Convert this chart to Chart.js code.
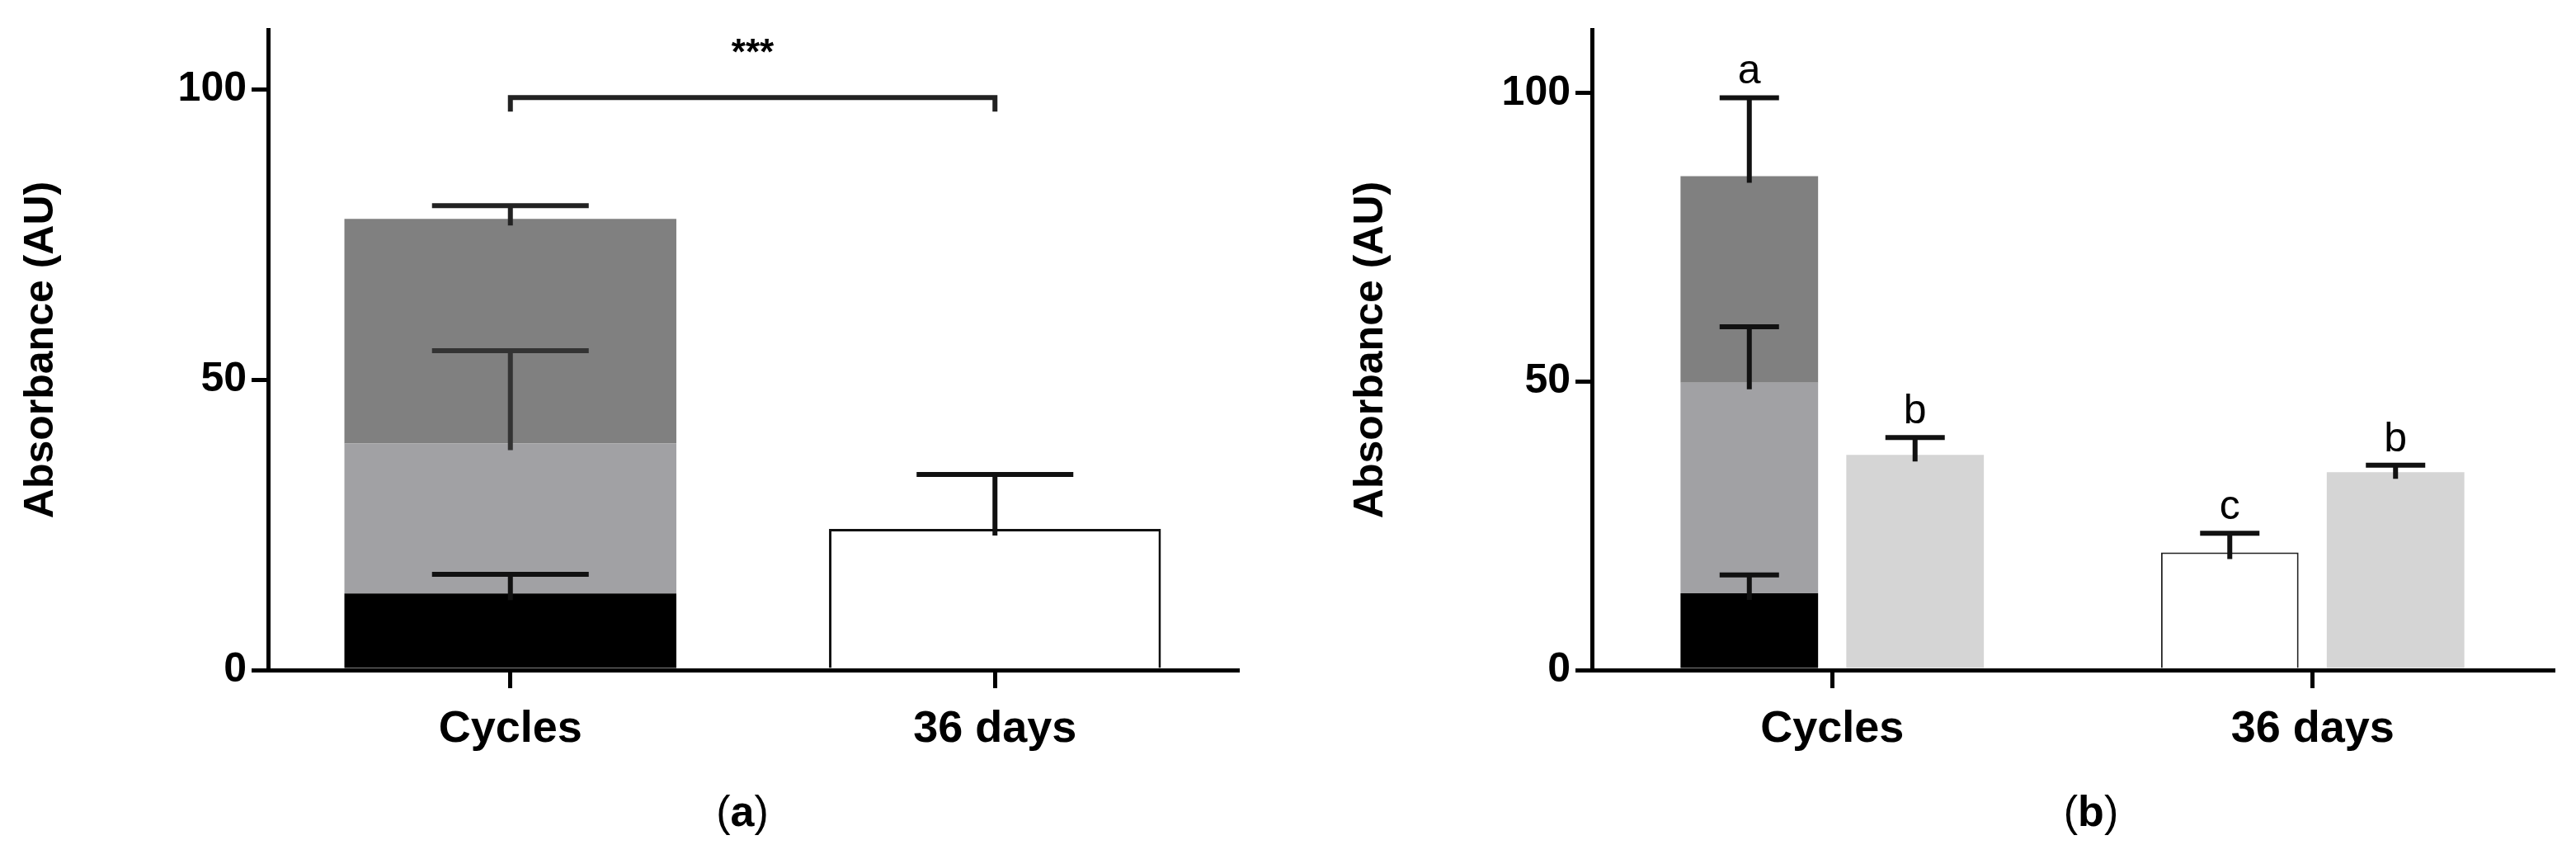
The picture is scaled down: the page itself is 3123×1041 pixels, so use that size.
<!DOCTYPE html>
<html>
<head>
<meta charset="utf-8">
<script src="https://cdn.jsdelivr.net/npm/chart.js@4/dist/chart.umd.min.js"></script>
<style>
  body { margin: 0; background: #fff; }
  #wrap { position: relative; width: 3123px; height: 1041px; }
  canvas { position: absolute; top: 0; }
  #ca { left: 0; }
  #cb { left: 1560px; }
</style>
</head>
<body>
<div id="wrap">
  <canvas id="ca" width="1560" height="1041"></canvas>
  <canvas id="cb" width="1563" height="1041"></canvas>
</div>
<script>
const categories = ['Cycles', '36 days']
const yTicks = [0, 50, 100]

// panel (a): single stacked bar per group
const aBlack = [13.2, null]
const aMid = [25.8, null]
const aDark = [38.7, null]
const aWhite = [null, 24.3]
const aBlackErr = [3.3, null]
const aMidErr = [16, null]
const aDarkErr = [2.3, null]
const aWhiteErr = [null, 9.4]

// panel (b): stacked bar + light grey bar per group
const bBlack = [13.3, null]
const bMid = [36.5, null]
const bDark = [35.8, null]
const bWhite = [null, 20.4]
const bLight = [37.3, 34.3]
const bBlackErr = [3.2, null]
const bMidErr = [9.7, null]
const bDarkErr = [13.6, null]
const bWhiteErr = [null, 3.3]
const bLightErr = [3.0, 1.2]
const bLetters = { stack: ['a', 'c'], light: ['b', 'b'] }

const narrow = '"Liberation Sans Narrow", "Arial Narrow", "Liberation Sans", sans-serif'
const sans = '"Liberation Sans", Arial, sans-serif'

const errorBars = {
    id: 'errorBars',
    afterDatasetsDraw(chart) {
        const ctx = chart.ctx
        const y = chart.scales.y
        chart.data.datasets.forEach((ds, i) => {
            if (!ds.errors) return
            const meta = chart.getDatasetMeta(i)
            meta.data.forEach((el, j) => {
                const e = ds.errors[j]
                if (e == null || ds.data[j] == null) return
                const topVal = y.getValueForPixel(el.y)
                const py = y.getPixelForValue(topVal + e)
                ctx.save()
                ctx.strokeStyle = ds.errColor || '#111'
                ctx.lineWidth = 6
                ctx.beginPath()
                ctx.moveTo(el.x, el.y + 8)
                ctx.lineTo(el.x, py)
                ctx.moveTo(el.x - ds.capHalf, py)
                ctx.lineTo(el.x + ds.capHalf, py)
                ctx.stroke()
                if (ds.letters && ds.letters[j]) {
                    ctx.fillStyle = '#000'
                    ctx.font = '50px ' + narrow
                    ctx.textAlign = 'center'
                    ctx.textBaseline = 'bottom'
                    ctx.fillText(ds.letters[j], el.x, py - 6)
                }
                ctx.restore()
            })
        })
    }
}

function panelLabel(letter, cx) {
    return {
        id: 'panelLabel',
        afterDraw(chart) {
            const ctx = chart.ctx
            ctx.save()
            ctx.fillStyle = '#000'
            ctx.textBaseline = 'middle'
            ctx.font = '52px ' + narrow
            const wp = ctx.measureText('(').width
            ctx.font = 'bold 52px ' + narrow
            const wl = ctx.measureText(letter).width
            let x = cx - (2 * wp + wl) / 2
            ctx.textAlign = 'left'
            ctx.font = '52px ' + narrow
            ctx.fillText('(', x, 987)
            ctx.font = 'bold 52px ' + narrow
            ctx.fillText(letter, x + wp, 987)
            ctx.font = '52px ' + narrow
            ctx.fillText(')', x + wp + wl, 987)
            ctx.restore()
        }
    }
}

const bracket = {
    id: 'bracket',
    afterDraw(chart) {
        const ctx = chart.ctx
        const x = chart.scales.x, y = chart.scales.y
        const x1 = x.getPixelForValue(0), x2 = x.getPixelForValue(1)
        const yt = y.getPixelForValue(98.6), yb = y.getPixelForValue(96.2)
        ctx.save()
        ctx.strokeStyle = '#222'
        ctx.lineWidth = 6
        ctx.beginPath()
        ctx.moveTo(x1, yb); ctx.lineTo(x1, yt); ctx.lineTo(x2, yt); ctx.lineTo(x2, yb)
        ctx.stroke()
        ctx.fillStyle = '#000'
        ctx.font = 'bold 44px ' + narrow
        ctx.textAlign = 'center'
        ctx.textBaseline = 'middle'
        ctx.fillText('***', (x1 + x2) / 2, y.getPixelForValue(106))
        ctx.restore()
    }
}

function makeOptions(yMax, leftPad, leftW, barPct, catPct) {
    return {
        responsive: false,
        animation: false,
        layout: { padding: { top: 30, right: 0, left: leftPad, bottom: 0 } },
        plugins: { legend: { display: false }, tooltip: { enabled: false } },
        datasets: { bar: { barPercentage: barPct, categoryPercentage: catPct } },
        scales: {
            x: {
                stacked: true,
                grid: { display: true, drawOnChartArea: false, drawTicks: true, tickLength: 22, color: '#000', lineWidth: 5, offset: false },
                border: { display: true, color: '#000', width: 5 },
                ticks: { color: '#000', font: { family: narrow, size: 54, weight: 'bold' }, padding: 18 },
                afterFit: s => { s.height = 229 }
            },
            y: {
                stacked: true,
                min: 0, max: yMax,
                grid: { display: true, drawOnChartArea: false, drawTicks: true, tickLength: 20, color: '#000', lineWidth: 5 },
                border: { display: true, color: '#000', width: 5 },
                ticks: { color: '#000', font: { family: narrow, size: 50, weight: 'bold' }, padding: 6 },
                afterBuildTicks: s => { s.ticks = yTicks.map(v => ({ value: v })) },
                title: { display: true, text: 'Absorbance (AU)', color: '#000', font: { family: sans, size: 50, weight: 'bold' }, padding: 0 },
                afterFit: s => { s.width = leftW - leftPad }
            }
        }
    }
}

const optA = makeOptions(110.3, 20, 325, 0.685, 1)
optA.layout.padding.right = 60
new Chart(document.getElementById('ca').getContext('2d'), {
    type: 'bar',
    data: {
        labels: categories,
        datasets: [
            { data: aBlack, errors: aBlackErr, backgroundColor: '#000', capHalf: 95 },
            { data: aMid, errors: aMidErr, backgroundColor: '#a1a1a4', capHalf: 95, errColor: '#333' },
            { data: aDark, errors: aDarkErr, backgroundColor: '#808080', capHalf: 95, errColor: '#222' },
            { data: aWhite, errors: aWhiteErr, backgroundColor: '#fff', borderColor: '#111', borderWidth: 3, capHalf: 95 }
        ]
    },
    options: optA,
    plugins: [errorBars, bracket, panelLabel('a', 900)]
})

const optB = makeOptions(111, 72, 370, 0.83, 0.69)
optB.layout.padding.right = 28
new Chart(document.getElementById('cb').getContext('2d'), {
    type: 'bar',
    data: {
        labels: categories,
        datasets: [
            { data: bBlack, errors: bBlackErr, stack: 's', backgroundColor: '#000', capHalf: 36 },
            { data: bMid, errors: bMidErr, stack: 's', backgroundColor: '#a1a1a4', capHalf: 36 },
            { data: bDark, errors: bDarkErr, stack: 's', backgroundColor: '#808080', capHalf: 36, letters: [bLetters.stack[0], null] },
            { data: bWhite, errors: bWhiteErr, stack: 's', backgroundColor: '#fff', borderColor: '#222', borderWidth: 2, capHalf: 36, letters: [null, bLetters.stack[1]] },
            { data: bLight, errors: bLightErr, stack: 'l', backgroundColor: '#d5d5d5', capHalf: 36, letters: bLetters.light }
        ]
    },
    options: optB,
    plugins: [errorBars, panelLabel('b', 975)]
})
</script>
</body>
</html>
